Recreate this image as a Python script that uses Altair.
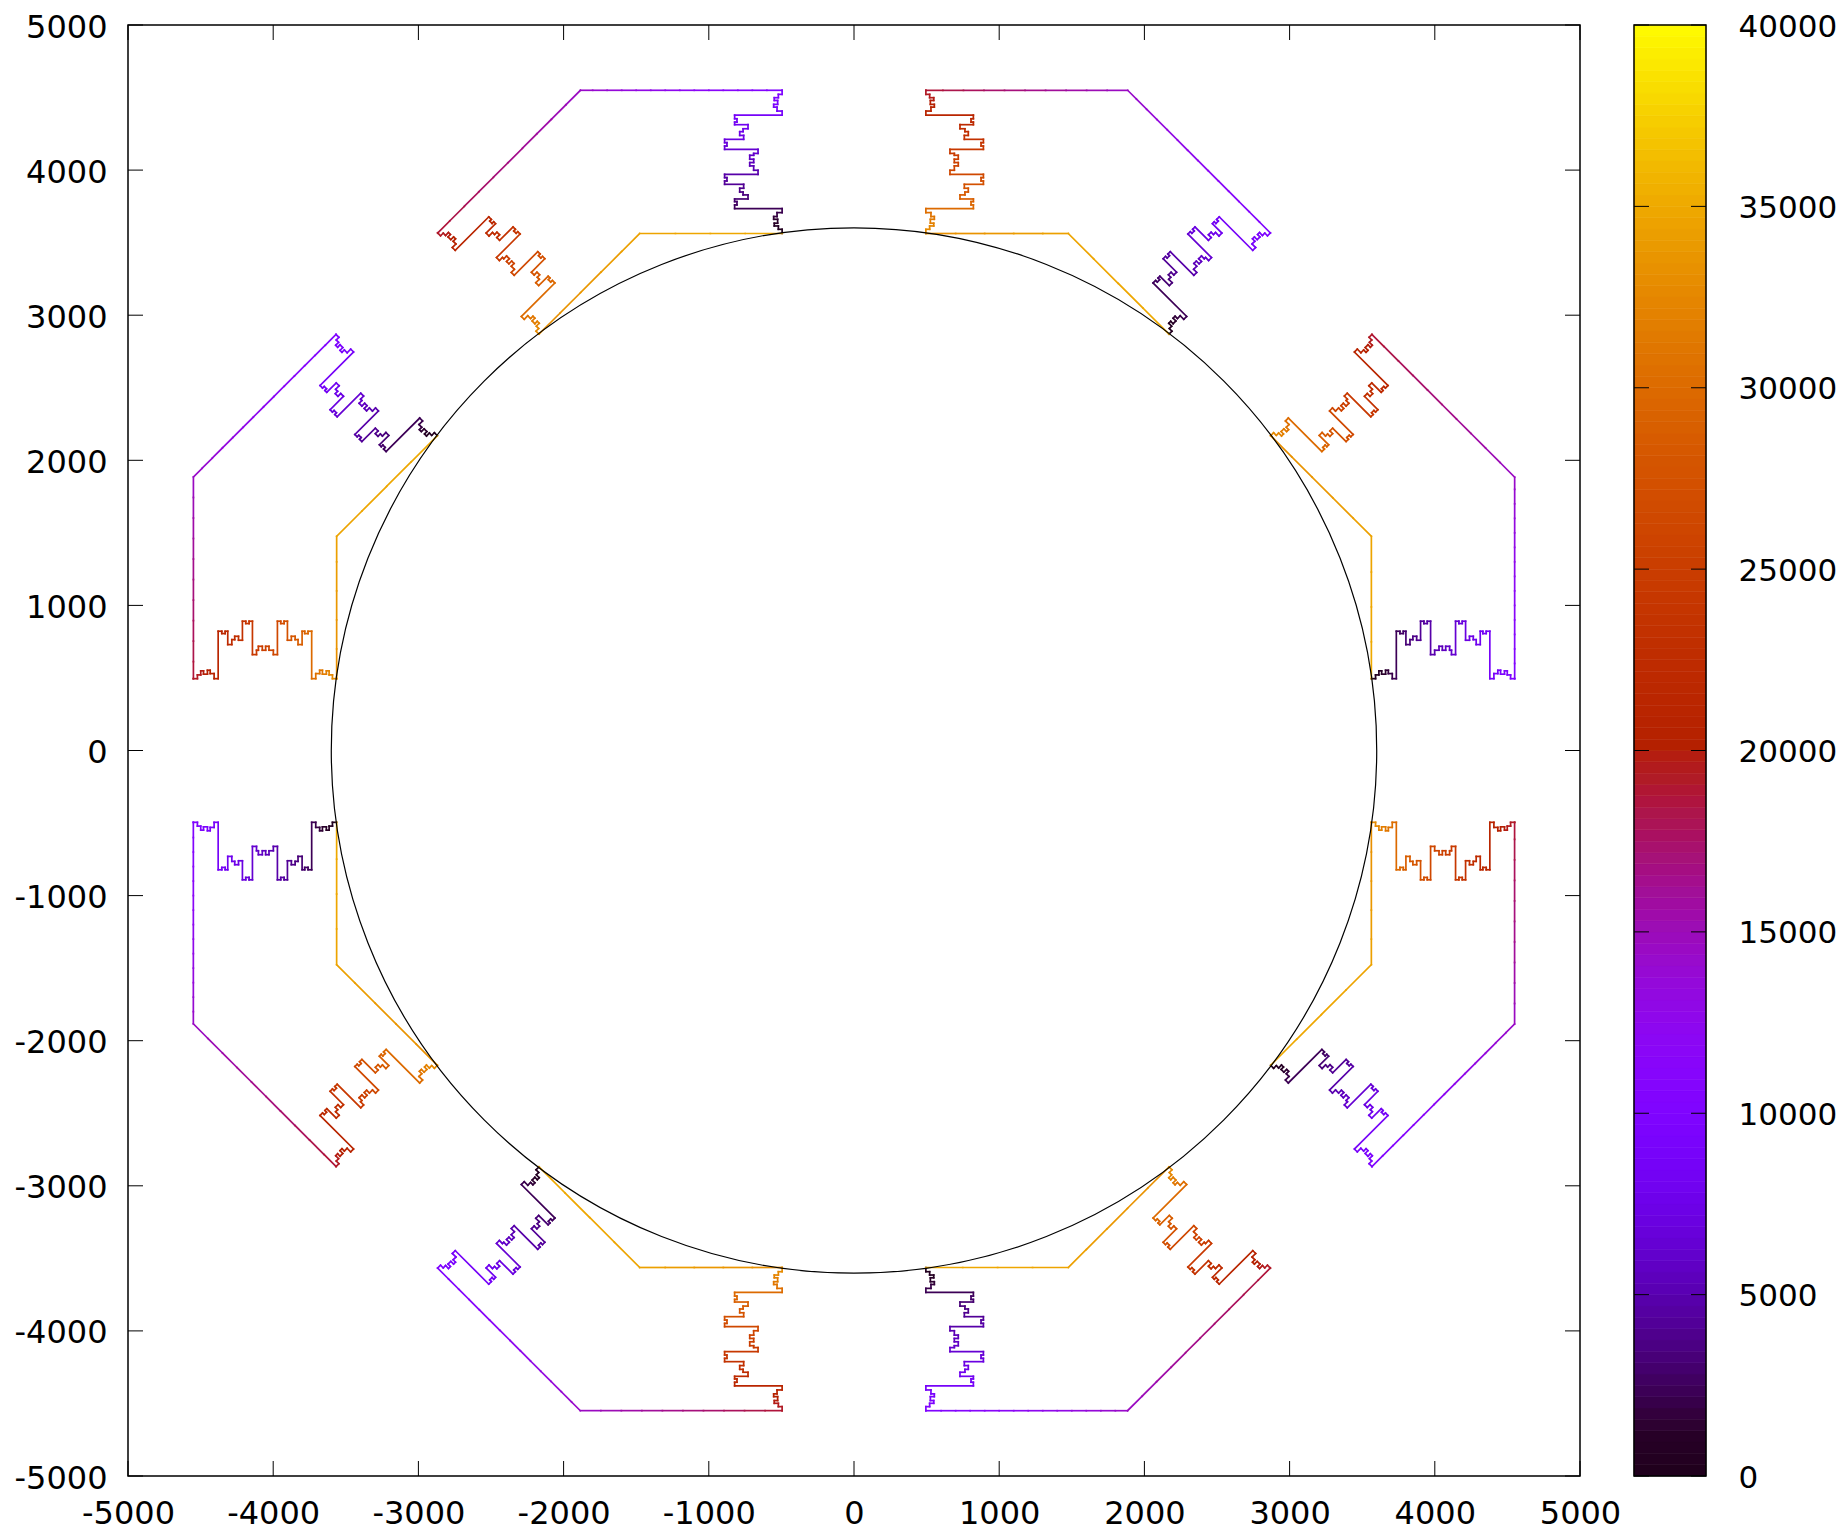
import math
import altair as alt
import pandas as pd

# one arm of the staircase (drawn from the inner circle outwards)
ARM_X = [495,495,521,521,549,549,526,526,553,553,530,530,495,495,
         822,822,806,806,822,822,730,730,764,764,787,787,760,760,
         891,891,875,875,891,891,661,661,691,691,718,718,691,691,718,718,691,691,661,661,
         891,891,875,875,891,891,760,760,787,787,764,764,730,730,822,822,806,806,822,822,
         495,495,530,530,553,553,526,526,549,549,521,521,495,495]
ARM_Y = [-3563,-3592,-3592,-3615,-3615,-3634,-3634,-3661,-3661,-3680,-3680,-3707,-3707,-3735,
         -3735,-3760,-3760,-3783,-3783,-3801,-3801,-3829,-3829,-3849,-3849,-3875,-3875,-3902,
         -3902,-3925,-3925,-3948,-3948,-3971,-3971,-3999,-3999,-4029,-4029,-4052,-4052,-4075,-4075,-4102,-4102,-4115,-4115,-4143,
         -4143,-4166,-4166,-4189,-4189,-4212,-4212,-4239,-4239,-4265,-4265,-4285,-4285,-4313,-4313,-4331,-4331,-4354,-4354,-4379,
         -4379,-4407,-4407,-4434,-4434,-4453,-4453,-4480,-4480,-4499,-4499,-4522,-4522,-4550]
OUT_T = [0,170,340,510,680,850,1020,1190,1360,1530,1700,1870,2040,2200,
         2300,2430,2560,2690,2820,2950,3080,3210,3340,3470,3600,3730,3860,4000,
         4100,4210,4320,4430,4540,4650,4760,4870,4980,5090,5200,5310,5420,5530,5640,5750,5860,5970,6080,6200,
         6300,6420,6540,6660,6780,6900,7020,7140,7260,7380,7500,7620,7740,7860,7980,8100,8220,8340,8460,8600,
         8700,8800,8900,9000,9100,9200,9300,9400,9500,9600,9700,9800,9900,10000]
IN_T = [19000,19150,19300,19450,19600,19750,19900,20050,20200,20350,20500,20650,20800,21000,
        21200,21350,21500,21650,21800,21950,22100,22250,22400,22550,22700,22850,23000,23200,
        23400,23550,23700,23850,24000,24150,24300,24450,24600,24750,24900,25050,25200,25350,25500,25650,25800,25950,26100,26200,
        26400,26580,26760,26940,27120,27300,27480,27660,27840,28020,28200,28380,28560,28740,28920,29100,29280,29460,29640,29800,
        30000,30230,30460,30690,30920,31150,31380,31610,31840,32070,32300,32530,32760,33000]
# long straight runs after the outward arm
RUN_X = [495,600,700,800,900,1000,1100,1200,1300,1400,1500,1600,1700,1800,1884,
         1984,2084,2184,2284,2384,2484,2584,2684,2784,2867]
RUN_Y = [-4550,-4550,-4550,-4550,-4550,-4550,-4550,-4550,-4550,-4550,-4550,-4550,-4550,-4550,-4550,
         -4450,-4350,-4250,-4150,-4050,-3950,-3850,-3750,-3650,-3567]
RUN_T = [10000,10320,10640,10960,11280,11600,11920,12240,12560,12880,13200,13520,13840,14160,14500,
         14950,15400,15850,16300,16750,17200,17650,18100,18550,19000]
# closing run back along the circle
BACK_X = [495,700,900,1100,1300,1476,1650,1820,1990,2170]
BACK_Y = [3563,3563,3563,3563,3563,3563,3389,3219,3049,2869]
BACK_T = [33000,33300,33600,33900,34200,34500,34620,34740,34860,35000]
TICKS = [-5000,-4000,-3000,-2000,-1000,0,1000,2000,3000,4000,5000]
CB_TICKS = [0,5000,10000,15000,20000,25000,30000,35000,40000]
SIDE = 1452
HEIGHT = 1451
BAR_GAP = 54
BAR_W = 72
FONT = 32
BAR_FONT = 31
L = 15


def rot(x, y, deg):
    a = math.radians(deg)
    return x * math.cos(a) - y * math.sin(a), x * math.sin(a) + y * math.cos(a)


# one closed loop: first parts in the frame of the outward arm, others turned
loop = list(zip(ARM_X, ARM_Y, OUT_T)) + list(zip(RUN_X, RUN_Y, RUN_T))
inbound = list(zip(ARM_X[::-1], [-v for v in ARM_Y[::-1]], IN_T))
back = list(zip(BACK_X, BACK_Y, BACK_T))
loop += [(*rot(x, y, -135), t) for x, y, t in inbound + back]

rows = []
for k in range(8):
    pts = [(*rot(x, y, 45 * k), t) for x, y, t in loop]
    for (x0, y0, t0), (x1, y1, _) in zip(pts, pts[1:]):
        rows.append({"x": x0, "y": y0, "x2": x1, "y2": y1, "t": t0})
segs = pd.DataFrame(rows)

# gnuplot's default pm3d palette
stops = [i * 1000 for i in range(41)]
def pal(v):
    t = v / 40000
    r, g, b = math.sqrt(t), t ** 3, max(0.0, math.sin(2 * math.pi * t))
    return "#%02x%02x%02x" % (round(r * 255), round(g * 255), round(b * 255))
cscale = alt.Scale(domain=stops, range=[pal(v) for v in stops])

xs = alt.Scale(domain=[-5000, 5000], nice=False, zero=False)
ys = alt.Scale(domain=[-5000, 5000], nice=False, zero=False)
tdf = pd.DataFrame({"v": TICKS})


def axis(orient, values, size=FONT, **kw):
    return alt.Axis(orient=orient, values=values, title=None, grid=False, domain=False,
                    ticks=False, labelFont="DejaVu Sans", labelFontSize=size, labelColor="black",
                    labelExpr="'' + datum.value", labelOverlap=False, labelFlush=False, **kw)


path = alt.Chart(segs).mark_rule(strokeWidth=1.7, strokeCap="square").encode(
    x=alt.X("x:Q", scale=xs, axis=axis("bottom", TICKS, labelPadding=22)),
    y=alt.Y("y:Q", scale=ys, axis=axis("left", TICKS, labelPadding=21, labelOffset=2)),
    x2="x2:Q", y2="y2:Q",
    color=alt.Color("t:Q", scale=cscale, legend=None),
)
circle = alt.Chart(pd.DataFrame({"x": [0], "y": [0]})).mark_point(
    filled=False, color="black", strokeWidth=1.2, opacity=1, size=(2 * 0.36 * SIDE) ** 2
).encode(x=alt.X("x:Q", scale=xs), y=alt.Y("y:Q", scale=ys))
tb = alt.Chart(tdf).mark_rule(color="black", strokeWidth=1).encode(
    x=alt.X("v:Q", scale=xs), y=alt.value(HEIGHT), y2=alt.value(HEIGHT - L))
tt = alt.Chart(tdf).mark_rule(color="black", strokeWidth=1).encode(
    x=alt.X("v:Q", scale=xs), y=alt.value(0), y2=alt.value(L))
tl = alt.Chart(tdf).mark_rule(color="black", strokeWidth=1).encode(
    y=alt.Y("v:Q", scale=ys), x=alt.value(0), x2=alt.value(L))
tr = alt.Chart(tdf).mark_rule(color="black", strokeWidth=1).encode(
    y=alt.Y("v:Q", scale=ys), x=alt.value(SIDE), x2=alt.value(SIDE - L))
main = alt.layer(path, circle, tb, tt, tl, tr)

# colour box, drawn to the right of the plot area on its own y scale
bx0, bx1 = SIDE + BAR_GAP, SIDE + BAR_GAP + BAR_W
bands = pd.DataFrame({"b": [i * 312.5 for i in range(128)]})
bands["b2"] = bands["b"] + 312.5
cys = alt.Scale(domain=[0, 40000], nice=False, zero=False)
box = alt.Chart(bands).mark_rect(strokeWidth=0.6).encode(
    y=alt.Y("b:Q", scale=cys, axis=axis("right", CB_TICKS, size=BAR_FONT, labelOffset=2,
                                        labelPadding=BAR_GAP + BAR_W + 32)),
    y2="b2:Q",
    x=alt.value(bx0), x2=alt.value(bx1),
    color=alt.Color("b:Q", scale=cscale, legend=None),
    stroke=alt.Stroke("b:Q", scale=cscale, legend=None),
)
cdf = pd.DataFrame({"v": CB_TICKS})
cl = alt.Chart(cdf).mark_rule(color="black", strokeWidth=1).encode(
    y=alt.Y("v:Q", scale=cys), x=alt.value(bx0), x2=alt.value(bx0 + L))
cr = alt.Chart(cdf).mark_rule(color="black", strokeWidth=1).encode(
    y=alt.Y("v:Q", scale=cys), x=alt.value(bx1), x2=alt.value(bx1 - L))
frame = alt.Chart(pd.DataFrame({"f": [0]})).mark_rect(
    fillOpacity=0, stroke="black", strokeWidth=1.5
).encode(x=alt.value(bx0), x2=alt.value(bx1), y=alt.value(0), y2=alt.value(HEIGHT))
bar = alt.layer(box, cl, cr, frame)

chart = alt.layer(main, bar).resolve_scale(y="independent").properties(
    width=SIDE, height=HEIGHT,
    autosize=alt.AutoSizeParams(type="none"),
    padding={"left": 120, "top": 17, "right": 256, "bottom": 56},
    background="white",
).configure_view(stroke="black", strokeWidth=1.5)

chart.save("out.html", embed_options={"renderer": "svg", "actions": False})
